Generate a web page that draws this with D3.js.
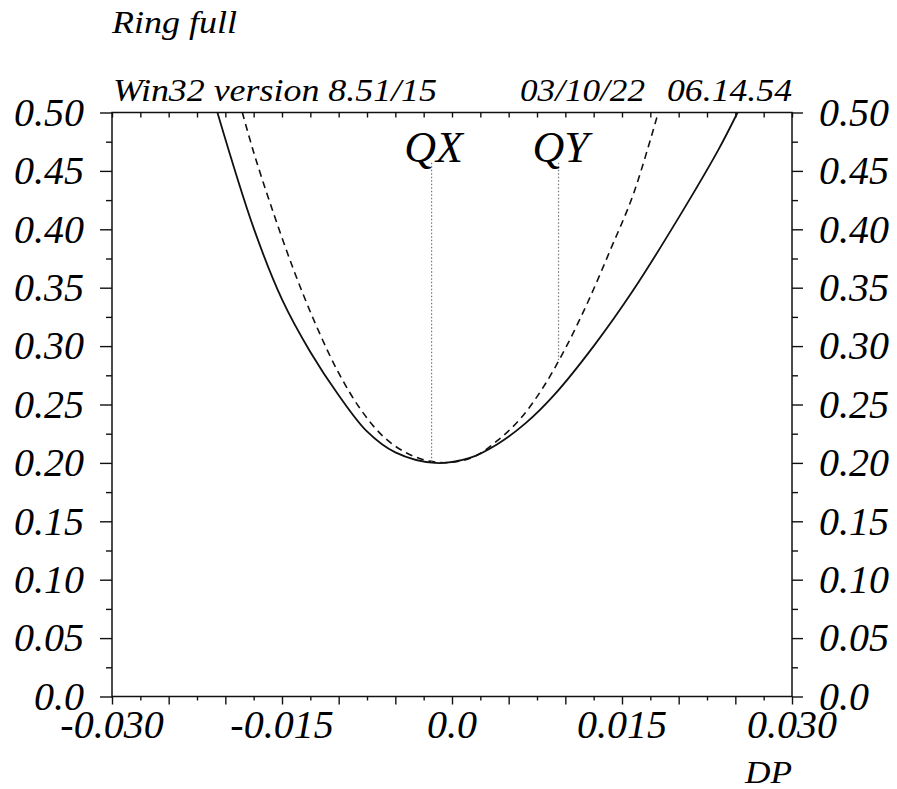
<!DOCTYPE html>
<html>
<head>
<meta charset="utf-8">
<script src="https://cdn.jsdelivr.net/npm/d3@7"></script>
<style>
  html, body { margin: 0; padding: 0; background: #fff; }
  svg text { font-family: "Liberation Serif", "Times New Roman", serif; font-style: italic; fill: #000; }
</style>
</head>
<body>
<svg id="chart" width="897" height="789"></svg>
<script>
// ---- data ----
const solidX = [-0.0207, -0.0175, -0.0150, -0.0125, -0.0100, -0.0075, -0.0050, -0.0015, 0.0015, 0.0040, 0.0065, 0.0090, 0.0125, 0.0160, 0.0200, 0.0235, 0.0252];
const solidY = [0.500, 0.401, 0.340, 0.295, 0.258, 0.227, 0.209, 0.200, 0.204, 0.216, 0.234, 0.258, 0.300, 0.348, 0.410, 0.468, 0.500];
const dashX = [-0.0185, -0.0175, -0.0160, -0.0140, -0.0120, -0.0100, -0.0080, -0.0060, -0.0040, -0.0020, 0.0000, 0.0020, 0.0040, 0.0060, 0.0080, 0.0100, 0.0120, 0.0140, 0.0160, 0.0182];
const dashY = [0.500, 0.466, 0.421, 0.366, 0.318, 0.277, 0.245, 0.222, 0.2085, 0.2015, 0.2005, 0.2055, 0.219, 0.2375, 0.264, 0.298, 0.338, 0.383, 0.430, 0.500];
const markerNames = ["QX", "QY"];
const markerX = [-0.0018, 0.0094];
const markerTop = [0.457, 0.457];
const markerBottom = [0.2005, 0.288];
const xLabelValues = [-0.030, -0.015, 0.0, 0.015, 0.030];
const xLabelTexts = ["-0.030", "-0.015", "0.0", "0.015", "0.030"];
const yLabelValues = [0, 0.05, 0.10, 0.15, 0.20, 0.25, 0.30, 0.35, 0.40, 0.45, 0.50];
const yLabelTexts = ["0.0", "0.05", "0.10", "0.15", "0.20", "0.25", "0.30", "0.35", "0.40", "0.45", "0.50"];
const titleText = "Ring full";
const versionText = "Win32 version 8.51/15";
const dateText = "03/10/22";
const timeText = "06.14.54";
const xAxisTitle = "DP";

// ---- layout ----
const L = 112, R = 792, T = 112.5, B = 696.5;
const svg = d3.select("#chart");
const x = d3.scaleLinear().domain([-0.03, 0.03]).range([L, R]);
const y = d3.scaleLinear().domain([0, 0.5]).range([B, T]);

const xMajor = d3.range(-0.030, 0.0301, 0.005);
const xMinor = d3.range(-0.0275, 0.030, 0.005);
const xAll = d3.range(-0.030, 0.0301, 0.0025);
const yMajor = d3.range(0, 0.501, 0.05);
const yMinor = d3.range(0.025, 0.5, 0.05);

function styleAxis(g) {
  g.select(".domain").remove();
  g.selectAll(".tick line").attr("stroke", "#111").attr("stroke-width", 1.4);
  g.selectAll(".tick text").remove();
}

// bottom
svg.append("g").attr("transform", `translate(0,${B})`)
  .call(d3.axisBottom(x).tickValues(xMajor).tickSize(8).tickFormat("")).call(styleAxis);
svg.append("g").attr("transform", `translate(0,${B})`)
  .call(d3.axisBottom(x).tickValues(xMinor).tickSize(4).tickFormat("")).call(styleAxis);
// top (inward)
svg.append("g").attr("transform", `translate(0,${T})`)
  .call(d3.axisTop(x).tickValues(xAll).tickSize(-5).tickFormat("")).call(styleAxis);
// left
svg.append("g").attr("transform", `translate(${L},0)`)
  .call(d3.axisLeft(y).tickValues(yMajor).tickSize(12).tickFormat("")).call(styleAxis);
svg.append("g").attr("transform", `translate(${L},0)`)
  .call(d3.axisLeft(y).tickValues(yMinor).tickSize(6).tickFormat("")).call(styleAxis);
// right
svg.append("g").attr("transform", `translate(${R},0)`)
  .call(d3.axisRight(y).tickValues(yMajor).tickSize(11).tickFormat("")).call(styleAxis);
svg.append("g").attr("transform", `translate(${R},0)`)
  .call(d3.axisRight(y).tickValues(yMinor).tickSize(6).tickFormat("")).call(styleAxis);

// frame
svg.append("rect").attr("x", L).attr("y", T).attr("width", R - L).attr("height", B - T)
  .attr("fill", "none").attr("stroke", "#111").attr("stroke-width", 1.5);

// tick labels
const fs = 40;
svg.append("g").selectAll("text").data(yLabelValues).join("text")
  .attr("x", 84).attr("y", d => y(d)).attr("dy", "0.33em")
  .attr("text-anchor", "end").attr("font-size", fs)
  .text((d, i) => yLabelTexts[i]);
svg.append("g").selectAll("text").data(yLabelValues).join("text")
  .attr("x", 819).attr("y", d => y(d)).attr("dy", "0.33em")
  .attr("text-anchor", "start").attr("font-size", fs)
  .text((d, i) => yLabelTexts[i]);
svg.append("g").selectAll("text").data(xLabelValues).join("text")
  .attr("x", d => x(d)).attr("y", 738)
  .attr("text-anchor", "middle").attr("font-size", fs)
  .text((d, i) => xLabelTexts[i]);

// header texts
svg.append("text").attr("x", 112).attr("y", 33).attr("font-size", 31)
  .attr("textLength", 125).attr("lengthAdjust", "spacingAndGlyphs").text(titleText);
svg.append("text").attr("x", 113).attr("y", 101).attr("font-size", 31)
  .attr("textLength", 324).attr("lengthAdjust", "spacingAndGlyphs").text(versionText);
svg.append("text").attr("x", 520).attr("y", 101).attr("font-size", 31)
  .attr("textLength", 125).attr("lengthAdjust", "spacingAndGlyphs").text(dateText);
svg.append("text").attr("x", 667).attr("y", 101).attr("font-size", 31)
  .attr("textLength", 125).attr("lengthAdjust", "spacingAndGlyphs").text(timeText);
svg.append("text").attr("x", 745).attr("y", 783).attr("font-size", 31)
  .attr("textLength", 47).attr("lengthAdjust", "spacingAndGlyphs").text(xAxisTitle);

// curves
svg.append("clipPath").attr("id", "clip").append("rect")
  .attr("x", L).attr("y", T - 1).attr("width", R - L).attr("height", B - T + 1);
const line = d3.line().x(d => x(d[0])).y(d => y(d[1])).curve(d3.curveCatmullRom.alpha(0.5));
svg.append("path").attr("clip-path", "url(#clip)")
  .attr("d", line(solidX.map((v, i) => [v, solidY[i]])))
  .attr("fill", "none").attr("stroke", "#111").attr("stroke-width", 1.8);
svg.append("path").attr("clip-path", "url(#clip)")
  .attr("d", line(dashX.map((v, i) => [v, dashY[i]])))
  .attr("fill", "none").attr("stroke", "#111").attr("stroke-width", 1.6)
  .attr("stroke-dasharray", "7,5");

// markers
markerNames.forEach((name, i) => {
  svg.append("line").attr("x1", x(markerX[i])).attr("x2", x(markerX[i]))
    .attr("y1", y(markerTop[i])).attr("y2", y(markerBottom[i]))
    .attr("stroke", "#777").attr("stroke-width", 1.2).attr("stroke-dasharray", "1.5,2");
  svg.append("text").attr("x", x(markerX[i]) + 2).attr("y", 162)
    .attr("text-anchor", "middle").attr("font-size", 44).text(name);
});
</script>
</body>
</html>
